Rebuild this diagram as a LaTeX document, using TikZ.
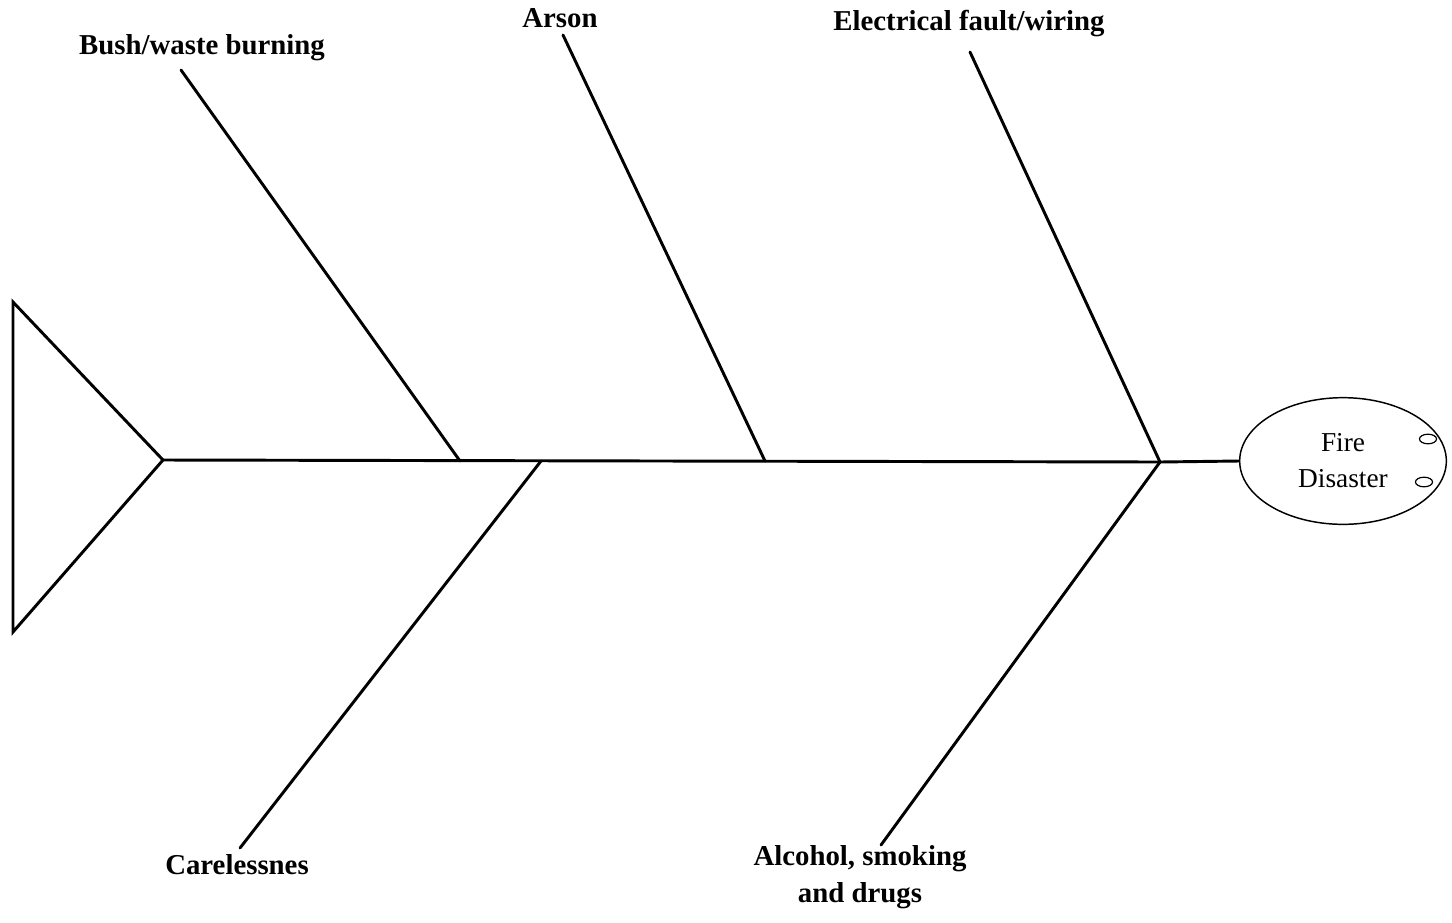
\documentclass[tikz,border=0pt]{standalone}
\usepackage{fontspec}
\setmainfont{Liberation Serif}
\usetikzlibrary{shapes.geometric}
\begin{document}
\begin{tikzpicture}[x=0.75pt,y=-0.75pt,
  bone/.style={line width=2.2pt,line cap=round,line join=miter},
  lbl/.style={font=\fontsize{21.6}{28}\selectfont\bfseries,inner sep=0pt,align=center},
  headbox/.style={draw,line width=1.1pt,ellipse,minimum width=155pt,minimum height=95pt,inner sep=0pt,align=center,font=\fontsize{20.5}{27}\selectfont},
  eye/.style={line width=0.9pt}]
\useasboundingbox (0,0) rectangle (1452,922);
% tail
\coordinate (tailtop) at (13,302);
\coordinate (tailbot) at (13,632);
\coordinate (apex) at (163,460);
\draw[bone] (tailtop) -- (apex) -- (tailbot) -- cycle;
% head
\node[headbox] (head) at (1343,461) {Fire\\Disaster};
\draw[eye] (1428,439) ellipse [x radius=6.4pt,y radius=3.6pt];
\draw[eye] (1424,482) ellipse [x radius=6.4pt,y radius=3.6pt];
% spine junctions
\coordinate (j1) at (460,461);
\coordinate (j2) at (541,461);
\coordinate (j3) at (765,461);
\coordinate (j4) at (1160,462);
\draw[bone] (apex) -- (j4);
\draw[bone] (j4) -- (head.west);
% bone ends
\coordinate (b1) at (181,70);
\coordinate (b2) at (563,35);
\coordinate (b3) at (970,52);
\coordinate (b4) at (240,848);
\coordinate (b5) at (881,845);
\draw[bone] (b1) -- (j1);
\draw[bone] (b2) -- (j3);
\draw[bone] (b3) -- (j4);
\draw[bone] (b4) -- (j2);
\draw[bone] (b5) -- (j4);
% labels
\node[lbl] (l1) at (202,48) {Bush/waste burning};
\node[lbl] (l2) at (560,18) {Arson};
\node[lbl] (l3) at (969,24) {Electrical fault/wiring};
\node[lbl] (l4) at (237,865) {Carelessnes};
\node[lbl] (l5) at (860,877) {Alcohol, smoking\\and drugs};
\end{tikzpicture}
\end{document}
